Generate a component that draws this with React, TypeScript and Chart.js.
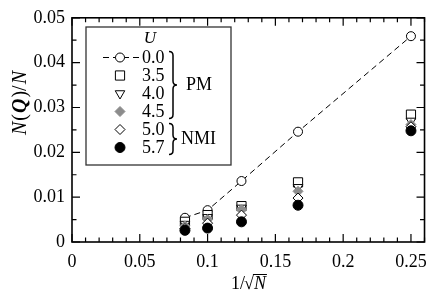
import React, { useEffect, useRef } from 'react';
import { Chart, registerables } from 'chart.js';
import { drawPoint } from 'chart.js/helpers';

Chart.register(...registerables);

// 1/sqrt(N) values
const X_VALUES = [0.0833, 0.1, 0.125, 0.1667, 0.25];
const U_LABELS = ['0.0', '3.5', '4.0', '4.5', '5.0', '5.7'];
const U_00 = [0.0054, 0.0071, 0.0136, 0.0246, 0.0459];
const U_35 = [0.0045, 0.006, 0.008, 0.0133, 0.0284];
const U_40 = [0.004, 0.0055, 0.0076, 0.0122, 0.027];
const U_45 = [0.0036, 0.005, 0.0072, 0.0113, 0.0262];
const U_50 = [0.003, 0.0042, 0.006, 0.0098, 0.0257];
const U_57 = [0.0026, 0.0031, 0.0045, 0.0082, 0.0248];
const SERIES = [U_00, U_35, U_40, U_45, U_50, U_57];

const X_TICKS = [0, 0.05, 0.1, 0.15, 0.2, 0.25];
const X_TICK_LABELS = ['0', '0.05', '0.1', '0.15', '0.2', '0.25'];
const Y_TICKS = [0, 0.01, 0.02, 0.03, 0.04, 0.05];
const Y_TICK_LABELS = ['0', '0.01', '0.02', '0.03', '0.04', '0.05'];
const GROUP_PM = 'PM';
const GROUP_NMI = 'NMI';

const SERIF = "'Liberation Serif', serif";
const FS = 18;

type Style = { pointStyle: string; radius: number; fill: string; stroke: string; rotation: number };
const STYLES: Style[] = [
  { pointStyle: 'circle', radius: 4.5, fill: '#ffffff', stroke: '#000000', rotation: 0 },
  { pointStyle: 'rect', radius: 6.5, fill: '#ffffff', stroke: '#000000', rotation: 0 },
  { pointStyle: 'triangle', radius: 5.5, fill: '#ffffff', stroke: '#000000', rotation: 180 },
  { pointStyle: 'rectRot', radius: 5, fill: '#8c8c8c', stroke: '#8c8c8c', rotation: 0 },
  { pointStyle: 'rectRot', radius: 5, fill: '#ffffff', stroke: '#000000', rotation: 0 },
  { pointStyle: 'circle', radius: 5, fill: '#000000', stroke: '#000000', rotation: 0 },
];

function drawBrace(ctx: CanvasRenderingContext2D, x: number, y1: number, y2: number, w: number) {
  const mid = (y1 + y2) / 2;
  const h = w / 2;
  const r = Math.min(4, (y2 - y1) / 4);
  ctx.beginPath();
  ctx.moveTo(x, y1);
  ctx.quadraticCurveTo(x + h, y1, x + h, y1 + r);
  ctx.lineTo(x + h, mid - r);
  ctx.quadraticCurveTo(x + h, mid, x + w, mid);
  ctx.quadraticCurveTo(x + h, mid, x + h, mid + r);
  ctx.lineTo(x + h, y2 - r);
  ctx.quadraticCurveTo(x + h, y2, x, y2);
  ctx.stroke();
}

const decorPlugin = {
  id: 'decor',
  afterDraw(chart: any) {
    const ctx: CanvasRenderingContext2D = chart.ctx;
    const area = chart.chartArea;
    const xs = chart.scales.x;
    const ys = chart.scales.y;
    ctx.save();
    // frame
    ctx.strokeStyle = '#000';
    ctx.lineWidth = 1.6;
    ctx.strokeRect(area.left, area.top, area.right - area.left, area.bottom - area.top);
    // ticks
    ctx.lineWidth = 1.2;
    ctx.beginPath();
    for (let i = 0; i <= 10; i++) {
      const v = i * 0.005;
      const y = ys.getPixelForValue(v);
      const len = i % 2 === 0 ? 8 : 4.5;
      ctx.moveTo(area.left, y);
      ctx.lineTo(area.left + len, y);
      ctx.moveTo(area.right, y);
      ctx.lineTo(area.right - len, y);
    }
    for (let i = 0; i <= 26; i++) {
      const v = i * 0.01;
      const x = xs.getPixelForValue(v);
      const len = i % 5 === 0 ? 8 : 4.5;
      ctx.moveTo(x, area.bottom);
      ctx.lineTo(x, area.bottom - len);
      ctx.moveTo(x, area.top);
      ctx.lineTo(x, area.top + len);
    }
    ctx.stroke();

    ctx.fillStyle = '#000';
    ctx.textBaseline = 'middle';
    // y title: N(Q)/N rotated
    const TS = 20;
    const tN = `italic ${TS}px ${SERIF}`;
    const tR = `${TS}px ${SERIF}`;
    const tQ = `italic bold ${TS}px ${SERIF}`;
    const parts: [string, string][] = [[tN, 'N'], [tR, '('], [tQ, 'Q'], [tR, ')/'], [tN, 'N']];
    const gap = 1;
    let total = gap * (parts.length - 1);
    const widths = parts.map(([f, t]) => { ctx.font = f; const w = ctx.measureText(t).width; total += w; return w; });
    ctx.save();
    ctx.translate(21, 103);
    ctx.rotate(-Math.PI / 2);
    ctx.textAlign = 'left';
    let px = -total / 2;
    parts.forEach(([f, t], i) => { ctx.font = f; ctx.fillText(t, px, 0); px += widths[i] + gap; });
    ctx.restore();

    const fN = `italic ${FS}px ${SERIF}`;
    const fR = `${FS}px ${SERIF}`;
    // x title: 1/√N
    ctx.textAlign = 'left';
    ctx.font = fR;
    const a = '1/';
    const b = '\u221A';
    const wa = ctx.measureText(a).width;
    const wb = ctx.measureText(b).width;
    ctx.font = fN;
    const wn = ctx.measureText('N').width;
    const tx = 249 - (wa + wb + wn) / 2;
    const ty = 284;
    ctx.font = fR;
    ctx.fillText(a, tx, ty);
    ctx.fillText(b, tx + wa - 1, ty);
    ctx.font = fN;
    ctx.fillText('N', tx + wa + wb - 1, ty);
    ctx.lineWidth = 1;
    ctx.beginPath();
    ctx.moveTo(tx + wa + wb - 2, ty - 9.5);
    ctx.lineTo(tx + wa + wb + wn, ty - 9.5);
    ctx.stroke();

    // legend
    const bx = 86, by = 27, bw = 145, bh = 138;
    ctx.fillStyle = '#fff';
    ctx.fillRect(bx, by, bw, bh);
    ctx.strokeStyle = '#333';
    ctx.lineWidth = 1.3;
    ctx.strokeRect(bx, by, bw, bh);
    ctx.fillStyle = '#000';
    ctx.font = `italic 17px ${SERIF}`;
    ctx.textAlign = 'center';
    ctx.fillText('U', 150, 39);
    const rows = [57.5, 75.5, 93.5, 111.5, 129.5, 147.5];
    const sx = 120;
    // dashed line for U=0
    ctx.strokeStyle = '#000';
    ctx.lineWidth = 1;
    ctx.setLineDash([6, 4]);
    ctx.beginPath();
    ctx.moveTo(103, rows[0]);
    ctx.lineTo(139, rows[0]);
    ctx.stroke();
    ctx.setLineDash([]);
    STYLES.forEach((s, i) => {
      ctx.fillStyle = s.fill;
      ctx.strokeStyle = s.stroke;
      ctx.lineWidth = 1;
      drawPoint(ctx, { pointStyle: s.pointStyle as any, radius: s.radius, rotation: s.rotation, borderWidth: 1 }, sx, rows[i]);
      ctx.fillStyle = '#000';
      ctx.font = fR;
      ctx.textAlign = 'left';
      ctx.fillText(U_LABELS[i], 142, rows[i] + 1);
    });
    ctx.strokeStyle = '#000';
    ctx.lineWidth = 1.5;
    drawBrace(ctx, 169, rows[0] - 6, rows[3] + 7, 8);
    drawBrace(ctx, 169, rows[4] - 6, rows[5] + 7, 8);
    ctx.font = fR;
    ctx.textAlign = 'left';
    ctx.fillText(GROUP_PM, 186, (rows[0] + rows[3]) / 2 + 1);
    ctx.fillText(GROUP_NMI, 181, (rows[4] + rows[5]) / 2 + 1);
    ctx.restore();
  },
};

export default function App() {
  const ref = useRef<HTMLCanvasElement>(null);
  useEffect(() => {
    if (!ref.current) return;
    Chart.defaults.font.family = SERIF;
    Chart.defaults.font.size = FS;
    Chart.defaults.color = '#000';
    const datasets = SERIES.map((vals, i) => {
      const s = STYLES[i];
      return {
        label: U_LABELS[i],
        data: X_VALUES.map((x, j) => ({ x, y: vals[j] })),
        showLine: i === 0,
        borderColor: '#000',
        borderWidth: 1,
        borderDash: [6, 4],
        pointStyle: s.pointStyle,
        pointRadius: s.radius,
        pointRotation: s.rotation,
        pointBackgroundColor: s.fill,
        pointBorderColor: s.stroke,
        pointBorderWidth: 1,
        order: 6 - i,
      };
    });
    const font = { family: SERIF, size: FS };
    const chart = new Chart(ref.current, {
      type: 'scatter',
      data: { datasets } as any,
      options: {
        animation: false,
        responsive: false,
        maintainAspectRatio: false,
        layout: { padding: { left: 8, right: 4, top: 13, bottom: 0 } },
        plugins: { legend: { display: false }, tooltip: { enabled: false } },
        scales: {
          x: {
            type: 'linear',
            min: 0,
            max: 0.26,
            afterBuildTicks: (s: any) => { s.ticks = X_TICKS.map((v) => ({ value: v })); },
            afterFit: (s: any) => { s.height = 54; },
            grid: { display: false, drawTicks: false },
            border: { display: false },
            ticks: {
              padding: 9,
              color: '#000',
              font,
              maxRotation: 0,
              autoSkip: false,
              callback: (_v: any, i: number) => X_TICK_LABELS[i],
            },
          },
          y: {
            type: 'linear',
            min: 0,
            max: 0.05,
            afterBuildTicks: (s: any) => { s.ticks = Y_TICKS.map((v) => ({ value: v })); },
            afterFit: (s: any) => { s.width = 64; },
            grid: { display: false, drawTicks: false },
            border: { display: false },
            ticks: {
              padding: 7,
              color: '#000',
              font,
              autoSkip: false,
              callback: (_v: any, i: number) => Y_TICK_LABELS[i],
            },
          },
        },
      } as any,
      plugins: [decorPlugin],
    });
    return () => chart.destroy();
  }, []);
  return (
    <div style={{ position: 'fixed', left: 0, top: 0, width: 436, height: 296, background: '#fff' }}>
      <canvas ref={ref} width={436} height={296} style={{ display: 'block', width: 436, height: 296 }} />
    </div>
  );
}
